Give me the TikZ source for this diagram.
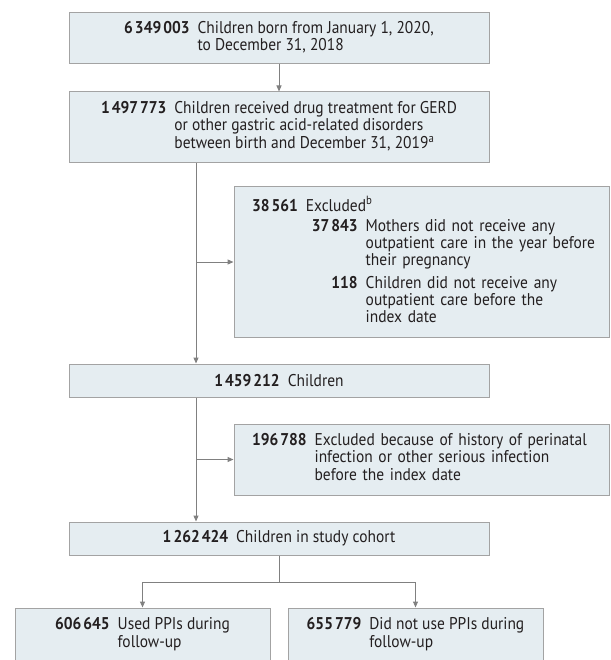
\documentclass[tikz,border=0pt]{standalone}
\usepackage{fontspec}
\setmainfont{PT Sans}[FakeStretch=0.91]
\usetikzlibrary{arrows.meta}

\definecolor{boxfill}{HTML}{E5EDF1}
\definecolor{boxline}{HTML}{A3A3A3}
\definecolor{linkgray}{HTML}{808080}
\definecolor{txtgray}{HTML}{231F20}

\newcommand{\cnt}[1]{\textbf{#1}}
\newcommand{\gp}{\hspace{2pt}}

\tikzset{
    flowbox/.style={draw=boxline, fill=boxfill, line width=1pt, inner sep=0pt,
        text=txtgray, font=\fontsize{17}{17.2}\selectfont},
    exclbox/.style={flowbox, inner xsep=18pt, align=left},
    link/.style={draw=linkgray, line width=1pt},
    arr/.style={link, -{Triangle[length=6pt, width=5pt]}}
}

\begin{document}
\begin{tikzpicture}[x=1pt, y=-1pt]
    \useasboundingbox (0,0) rectangle (610,660);
    \clip (0,0) rectangle (610,660);

    % main column
    \node[flowbox, minimum width=420, minimum height=51] (born) at (279,38.5)
        {\begin{tabular}{@{}r@{\hspace{8pt}}l@{}}
            \cnt{6\gp349\gp003} & Children born from January 1, 2020,\\
             & to December 31, 2018
        \end{tabular}};
    \node[flowbox, minimum width=420, minimum height=71] (treated) at (279,127.5)
        {\begin{tabular}{@{}r@{\hspace{8pt}}l@{}}
            \cnt{1\gp497\gp773} & Children received drug treatment for GERD\\
             & or other gastric acid-related disorders\\
             & between birth and December 31, 2019\textsuperscript{a}
        \end{tabular}};
    \node[flowbox, minimum width=420, minimum height=33] (children) at (279,380.5)
        {\cnt{1\gp459\gp212}\hspace{8pt}Children};
    \node[flowbox, minimum width=420, minimum height=33] (cohort) at (279,538.5)
        {\cnt{1\gp262\gp424}\hspace{8pt}Children in study cohort};

    % exclusions
    \node[exclbox, text width=339, minimum height=150] (excl1) at (421.5,262)
        {\begin{tabular}{@{}r@{\hspace{8pt}}l@{}}
            \cnt{38\gp561} & Excluded\textsuperscript{b}\\[3pt]
             & \hspace{6pt}\begin{tabular}[t]{@{}r@{\hspace{8pt}}l@{}}
                \cnt{37\gp843} & Mothers did not receive any\\
                 & outpatient care in the year before\\
                 & their pregnancy\\[5pt]
                \cnt{118} & Children did not receive any\\
                 & outpatient care before the\\
                 & index date
             \end{tabular}
        \end{tabular}};
    \node[exclbox, text width=339, minimum height=71] (excl2) at (421.5,459.5)
        {\begin{tabular}{@{}r@{\hspace{8pt}}l@{}}
            \cnt{196\gp788} & Excluded because of history of perinatal\\
             & infection or other serious infection\\
             & before the index date
        \end{tabular}};

    % groups
    \node[flowbox, minimum width=255, minimum height=54] (ppi) at (142.5,635)
        {\begin{tabular}{@{}r@{\hspace{8pt}}l@{}}
            \cnt{606\gp645} & Used PPIs during\\
             & follow-up
        \end{tabular}};
    \node[flowbox, minimum width=255, minimum height=54] (noppi) at (415.5,635)
        {\begin{tabular}{@{}r@{\hspace{8pt}}l@{}}
            \cnt{655\gp779} & Did not use PPIs during\\
             & follow-up
        \end{tabular}};

    % connectors
    \coordinate (spine) at (196,0);
    \draw[arr] (born) -- (treated);
    \draw[arr] (treated.south -| spine) -- (children.north -| spine);
    \draw[arr] (spine |- excl1.west) -- (excl1.west);
    \draw[arr] (children.south -| spine) -- (cohort.north -| spine);
    \draw[arr] (spine |- excl2.west) -- (excl2.west);
    \draw[link] (cohort.south) -- ++(0,27) coordinate (split);
    \draw[arr] (split) -| (ppi.north);
    \draw[arr] (split) -| (noppi.north);
\end{tikzpicture}
\end{document}
